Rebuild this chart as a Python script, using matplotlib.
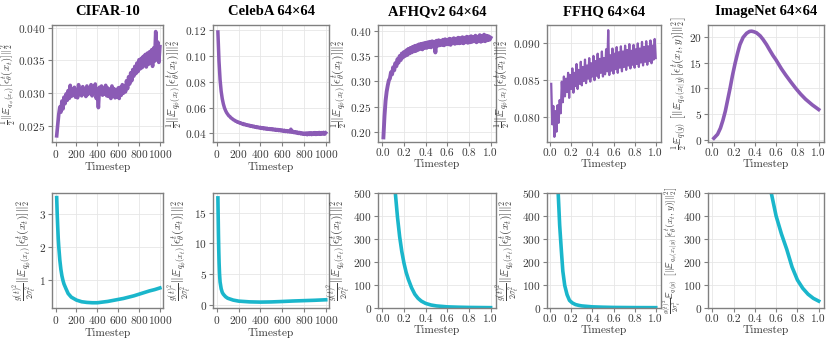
import numpy as np
import matplotlib
matplotlib.use("Agg")
import matplotlib.pyplot as plt

plt.rcParams["font.family"] = "serif"
plt.rcParams["font.serif"] = ["cmr10", "DejaVu Serif"]
plt.rcParams["mathtext.fontset"] = "cm"
plt.rcParams["axes.formatter.use_mathtext"] = True
plt.rcParams["axes.unicode_minus"] = False

PURPLE = "#8b5bb5"
CYAN = "#1ab6cb"
TXT = "#3a3a3a"

titles = ["CIFAR-10", "CelebA 64×64", "AFHQv2 64×64", "FFHQ 64×64", "ImageNet 64×64"]

# ---- top row: norm of expected score ----
cifar_top_y = [
    0.0235, 0.0252, 0.0268, 0.0279, 0.0271, 0.0288, 0.0276, 0.0294, 0.0284, 0.0299,
    0.0289, 0.0304, 0.0292, 0.0312, 0.0295, 0.0306, 0.0297, 0.0309, 0.0294, 0.0304,
    0.0293, 0.0313, 0.0298, 0.0306, 0.0296, 0.0310, 0.0299, 0.0307, 0.0295, 0.0311,
    0.0298, 0.0307, 0.0300, 0.0313, 0.0296, 0.0308, 0.0300, 0.0314, 0.0292, 0.0306,
    0.0278, 0.0309, 0.0300, 0.0311, 0.0297, 0.0307, 0.0299, 0.0312, 0.0296, 0.0308,
    0.0295, 0.0306, 0.0292, 0.0311, 0.0298, 0.0307, 0.0293, 0.0305, 0.0294, 0.0308,
    0.0292, 0.0309, 0.0297, 0.0313, 0.0300, 0.0311, 0.0302, 0.0319, 0.0307, 0.0325,
    0.0314, 0.0331, 0.0319, 0.0336, 0.0326, 0.0341, 0.0330, 0.0346, 0.0333, 0.0351,
    0.0337, 0.0353, 0.0339, 0.0356, 0.0342, 0.0359, 0.0340, 0.0361, 0.0344, 0.0363,
    0.0346, 0.0366, 0.0341, 0.0369, 0.0349, 0.0394, 0.0351, 0.0378, 0.0347, 0.0371,
]
celeba_top_y = [
    0.1185, 0.0960, 0.0815, 0.0725, 0.0668, 0.0628, 0.0598, 0.0577, 0.0560, 0.0548,
    0.0536, 0.0530, 0.0519, 0.0515, 0.0506, 0.0503, 0.0495, 0.0494, 0.0486, 0.0487,
    0.0479, 0.0481, 0.0473, 0.0476, 0.0467, 0.0471, 0.0463, 0.0466, 0.0459, 0.0463,
    0.0454, 0.0459, 0.0451, 0.0456, 0.0447, 0.0452, 0.0444, 0.0449, 0.0441, 0.0447,
    0.0438, 0.0444, 0.0435, 0.0442, 0.0433, 0.0440, 0.0431, 0.0437, 0.0429, 0.0436,
    0.0427, 0.0434, 0.0425, 0.0432, 0.0423, 0.0430, 0.0421, 0.0428, 0.0419, 0.0426,
    0.0416, 0.0424, 0.0414, 0.0421, 0.0412, 0.0419, 0.0410, 0.0432, 0.0408, 0.0416,
    0.0405, 0.0413, 0.0402, 0.0410, 0.0399, 0.0407, 0.0396, 0.0404, 0.0393, 0.0402,
    0.0392, 0.0403, 0.0389, 0.0404, 0.0391, 0.0405, 0.0390, 0.0404, 0.0392, 0.0406,
    0.0391, 0.0405, 0.0393, 0.0407, 0.0392, 0.0406, 0.0394, 0.0408, 0.0393, 0.0404,
]
afhq_top_y = [
    0.190, 0.232, 0.262, 0.280, 0.292, 0.302, 0.306, 0.318, 0.314, 0.328,
    0.322, 0.336, 0.330, 0.344, 0.337, 0.350, 0.342, 0.355, 0.347, 0.358,
    0.350, 0.361, 0.352, 0.364, 0.355, 0.366, 0.357, 0.368, 0.359, 0.370,
    0.360, 0.371, 0.362, 0.373, 0.364, 0.374, 0.363, 0.375, 0.366, 0.376,
    0.366, 0.377, 0.368, 0.378, 0.367, 0.379, 0.369, 0.378, 0.357, 0.380,
    0.370, 0.381, 0.371, 0.380, 0.372, 0.382, 0.371, 0.383, 0.373, 0.382,
    0.373, 0.384, 0.372, 0.383, 0.375, 0.385, 0.374, 0.384, 0.375, 0.386,
    0.375, 0.385, 0.376, 0.387, 0.375, 0.386, 0.377, 0.388, 0.376, 0.387,
    0.377, 0.389, 0.378, 0.387, 0.379, 0.390, 0.377, 0.388, 0.379, 0.391,
    0.378, 0.389, 0.380, 0.392, 0.379, 0.390, 0.381, 0.389, 0.382, 0.386,
]
ffhq_top_y = [
    0.0845, 0.0790, 0.0815, 0.0773, 0.0808, 0.0780, 0.0816, 0.0792, 0.0823, 0.0805,
    0.0848, 0.0820, 0.0855, 0.0828, 0.0852, 0.0834, 0.0860, 0.0826, 0.0857, 0.0838,
    0.0866, 0.0833, 0.0860, 0.0842, 0.0872, 0.0838, 0.0864, 0.0845, 0.0875, 0.0843,
    0.0868, 0.0849, 0.0878, 0.0846, 0.0870, 0.0852, 0.0880, 0.0848, 0.0873, 0.0855,
    0.0883, 0.0850, 0.0876, 0.0856, 0.0886, 0.0853, 0.0879, 0.0860, 0.0889, 0.0855,
    0.0880, 0.0858, 0.0892, 0.0862, 0.0918, 0.0857, 0.0884, 0.0863, 0.0893, 0.0859,
    0.0886, 0.0865, 0.0895, 0.0860, 0.0888, 0.0867, 0.0896, 0.0862, 0.0889, 0.0868,
    0.0897, 0.0864, 0.0891, 0.0870, 0.0899, 0.0866, 0.0890, 0.0871, 0.0898, 0.0867,
    0.0892, 0.0872, 0.0900, 0.0868, 0.0893, 0.0874, 0.0902, 0.0870, 0.0895, 0.0875,
    0.0903, 0.0871, 0.0896, 0.0876, 0.0904, 0.0873, 0.0897, 0.0878, 0.0906, 0.0880,
]
imagenet_top_x = [0.015, 0.05, 0.077, 0.1, 0.123, 0.15, 0.169, 0.19, 0.215, 0.24, 0.26,
                  0.29, 0.323, 0.35, 0.37, 0.39, 0.415, 0.45, 0.477, 0.51, 0.538, 0.57,
                  0.6, 0.65, 0.69, 0.74, 0.785, 0.83, 0.877, 0.94, 1.0]
imagenet_top_y = [0.33, 1.1, 2.3, 3.8, 5.6, 8.3, 10.2, 12.5, 14.9, 17.0, 18.5,
                  19.9, 20.7, 21.05, 21.1, 21.0, 20.8, 20.2, 19.5, 18.5, 17.5, 16.4,
                  15.5, 13.8, 12.6, 11.2, 10.0, 8.9, 7.9, 6.8, 5.9]

# ---- bottom row: weighted norm ----
cifar_bot_x = [10, 15, 20, 25, 30, 40, 50, 60, 70, 80, 100, 120, 150, 200, 250, 300, 350,
               400, 450, 500, 550, 600, 650, 700, 750, 800, 850, 900, 950, 1000]
cifar_bot_y = [3.5, 3.0, 2.6, 2.25, 2.0, 1.6, 1.32, 1.12, 0.98, 0.87, 0.72, 0.58, 0.47,
               0.38, 0.33, 0.31, 0.30, 0.30, 0.32, 0.34, 0.37, 0.40, 0.43, 0.47, 0.51,
               0.56, 0.61, 0.66, 0.70, 0.75]
celeba_bot_x = [10, 12, 15, 18, 21, 25, 30, 40, 50, 60, 80, 100, 150, 200, 300, 400, 500,
                600, 700, 800, 900, 1000]
celeba_bot_y = [17.4, 15.0, 11.5, 8.8, 6.8, 5.0, 3.7, 2.6, 2.0, 1.7, 1.3, 1.05, 0.75, 0.58,
                0.46, 0.42, 0.45, 0.52, 0.60, 0.66, 0.72, 0.80]
afhq_bot_x = [0.01, 0.05, 0.08, 0.11, 0.12, 0.14, 0.16, 0.18, 0.2, 0.22, 0.24, 0.27, 0.3,
              0.33, 0.36, 0.4, 0.45, 0.5, 0.6, 0.7, 0.8, 0.9, 1.0]
afhq_bot_y = [20000, 2000, 900, 560, 500, 395, 310, 245, 195, 155, 125, 88, 60,
              42, 30, 20, 13, 9, 5, 3.5, 2.5, 2, 1.5]
ffhq_bot_x = [0.01, 0.03, 0.06, 0.076, 0.09, 0.107, 0.12, 0.138, 0.16, 0.183, 0.21, 0.24,
              0.275, 0.3, 0.4, 0.5, 0.6, 0.8, 1.0]
ffhq_bot_y = [20000, 3000, 900, 500, 360, 243, 160, 98, 58, 33, 22, 15,
              11, 9, 5, 3.5, 2.5, 1.8, 1.5]
imagenet_bot_x = [0.5, 0.55, 0.6, 0.65, 0.7, 0.75, 0.8, 0.85, 0.9, 0.95, 1.0]
imagenet_bot_y = [650, 510, 400, 322, 255, 178, 122, 86, 60, 42, 30]

t1000 = np.linspace(10, 1000, 100)
t01 = np.linspace(0.01, 1.0, 100)

top_series = [(t1000, cifar_top_y), (t1000, celeba_top_y), (t01, afhq_top_y),
              (t01, ffhq_top_y), (imagenet_top_x, imagenet_top_y)]
bot_series = [(cifar_bot_x, cifar_bot_y), (celeba_bot_x, celeba_bot_y),
              (afhq_bot_x, afhq_bot_y), (ffhq_bot_x, ffhq_bot_y),
              (imagenet_bot_x, imagenet_bot_y)]

norm = r"\|\mathbb{E}_{q_\phi(x_t)}[\epsilon_\theta^t(x_t)]\|_2^2"
cond = r"\mathbb{E}_{q(y)}\ \left[\|\mathbb{E}_{q_\phi(x_t|y)}[\epsilon_\theta^t(x_t,y)]\|_2^2\right]"
top_labels = [r"$\frac{1}{2}" + norm + "$"] * 4 + [r"$\frac{1}{2}" + cond + "$"]
bot_labels = [r"$\frac{g(t)^2}{2\sigma_t^2}" + norm + "$"] * 4 + [
    r"$\frac{g(t)^2}{2\sigma_t^2}" + cond + "$"]
label_sizes = [7.8, 8.4, 8.4, 8.4, 8.0]
bot_label_sizes = [8.4, 8.4, 8.4, 8.4, 7.0]

top_ylims = [(0.02256, 0.0404), (0.0333, 0.1239), (0.181, 0.411), (0.0766, 0.0925), (-0.4, 22.3)]
bot_ylims = [(0.14, 3.64), (-0.54, 18.2), (0, 500), (0, 500), (0, 500)]
xlims = [(-35, 1030), (-35, 1030), (-0.04, 1.05), (-0.03, 1.05), (-0.04, 1.05)]
xticks = [np.arange(0, 1001, 200)] * 2 + [np.round(np.arange(0, 1.01, 0.2), 1)] * 3
top_lw = [2.6, 2.5, 2.8, 1.6, 2.6]

W, H = 830, 339
lefts = [52, 213, 378, 547, 708]
widths = [111, 116, 118, 114, 116]

fig = plt.figure(figsize=(8.3, 3.39), dpi=100)


def style(ax, i):
    ax.grid(True, color="#e6e6e6", linewidth=0.6)
    ax.set_axisbelow(True)
    for s in ax.spines.values():
        s.set_color("#808080")
        s.set_linewidth(1.0)
    ax.set_xticks(xticks[i])
    if i >= 2:
        ax.set_xticklabels([f"{v:.1f}" for v in xticks[i]])
    ax.set_xlim(*xlims[i])
    ax.tick_params(labelsize=8.2, length=3, width=0.8, color="#808080",
                   labelcolor=TXT, pad=1.5)
    ax.set_xlabel("Timestep", fontsize=8.2, labelpad=1, color=TXT)


for i in range(5):
    ax = fig.add_axes([lefts[i] / W, 1 - 142 / H, widths[i] / W, 117 / H])
    x, y = top_series[i]
    ax.plot(x, y, color=PURPLE, lw=top_lw[i])
    ax.set_ylim(*top_ylims[i])
    style(ax, i)
    ax.set_ylabel(top_labels[i], fontsize=label_sizes[i], labelpad=0, color=TXT)
    ax.set_title(titles[i], fontfamily="Liberation Serif", fontweight="bold",
                 fontsize=10.5, pad=7)
    if i == 4:
        ax.set_yticks([0, 5, 10, 15, 20])

    ax2 = fig.add_axes([lefts[i] / W, 1 - 308 / H, widths[i] / W, 115 / H])
    x, y = bot_series[i]
    ax2.plot(x, y, color=CYAN, lw=2.6)
    ax2.set_ylim(*bot_ylims[i])
    style(ax2, i)
    ax2.set_ylabel(bot_labels[i], fontsize=bot_label_sizes[i], labelpad=0, color=TXT)
    if i == 0:
        ax2.set_yticks([1, 2, 3])
    if i == 1:
        ax2.set_yticks([0, 5, 10, 15])

fig.savefig("out.png", dpi=100)
